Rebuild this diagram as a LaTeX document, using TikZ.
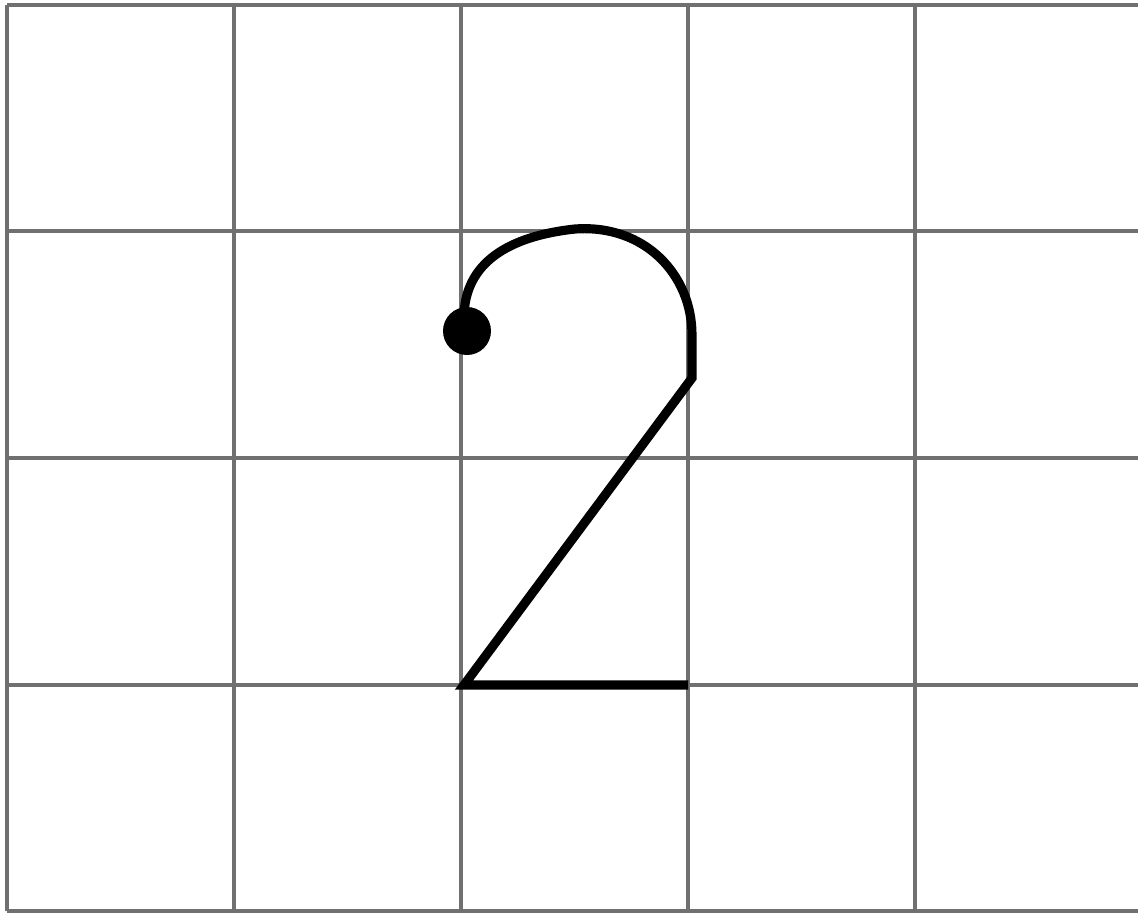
\documentclass[tikz,border=0pt]{standalone}
\definecolor{gridgray}{HTML}{707070}
\usetikzlibrary{calc}

\begin{document}
\begin{tikzpicture}[x=0.01cm, y=-0.01cm]
  \useasboundingbox (0,0) rectangle (1138,914);
  \fill[white] (0,0) rectangle (1138,914);
  % grid
  \foreach \x in {7,234,461,688,915} {
    \draw[gridgray, line width=1pt] (\x,5) -- (\x,911);
  }
  \foreach \y in {5,231,458,685,911} {
    \draw[gridgray, line width=1pt] (7,\y) -- (1138,\y);
  }
  % the figure two
  \coordinate (start) at (464,318);
  \coordinate (top) at (575,229);
  \coordinate (side) at (692,335);
  \coordinate (bend) at (692,378);
  \coordinate (foot) at (464,685);
  \coordinate (tail) at (688,685);
  \draw[line width=2.6pt] (start) .. controls (464,262) and (510,236) .. (top)
    .. controls (645,224) and (692,275) .. (side) -- (bend) -- (foot) -- (tail);
  \fill (467,331) circle (24);
\end{tikzpicture}
\end{document}
